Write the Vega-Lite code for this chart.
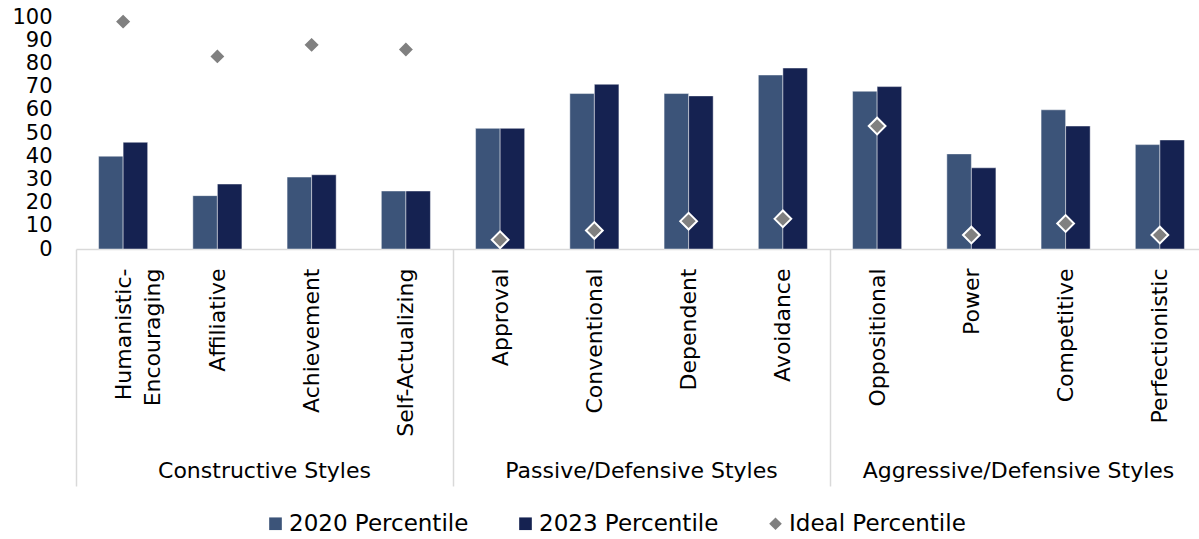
{
  "$schema": "https://vega.github.io/schema/vega-lite/v6.json",
  "width": 1123,
  "height": 232,
  "autosize": "none",
  "padding": {"left": 76, "top": 17, "right": 0, "bottom": 290},
  "background": "#ffffff",
  "config": {"view": {"stroke": null}, "font": "DejaVu Sans", "axisY": {"labelOverlap": false}},
  "data": {
    "values": [
      {"cat": "Humanistic-Encouraging", "group": "Constructive Styles", "2020 Percentile": 40, "2023 Percentile": 46, "Ideal Percentile": 98},
      {"cat": "Affiliative", "group": "Constructive Styles", "2020 Percentile": 23, "2023 Percentile": 28, "Ideal Percentile": 83},
      {"cat": "Achievement", "group": "Constructive Styles", "2020 Percentile": 31, "2023 Percentile": 32, "Ideal Percentile": 88},
      {"cat": "Self-Actualizing", "group": "Constructive Styles", "2020 Percentile": 25, "2023 Percentile": 25, "Ideal Percentile": 86},
      {"cat": "Approval", "group": "Passive/Defensive Styles", "2020 Percentile": 52, "2023 Percentile": 52, "Ideal Percentile": 4},
      {"cat": "Conventional", "group": "Passive/Defensive Styles", "2020 Percentile": 67, "2023 Percentile": 71, "Ideal Percentile": 8},
      {"cat": "Dependent", "group": "Passive/Defensive Styles", "2020 Percentile": 67, "2023 Percentile": 66, "Ideal Percentile": 12},
      {"cat": "Avoidance", "group": "Passive/Defensive Styles", "2020 Percentile": 75, "2023 Percentile": 78, "Ideal Percentile": 13},
      {"cat": "Oppositional", "group": "Aggressive/Defensive Styles", "2020 Percentile": 68, "2023 Percentile": 70, "Ideal Percentile": 53},
      {"cat": "Power", "group": "Aggressive/Defensive Styles", "2020 Percentile": 41, "2023 Percentile": 35, "Ideal Percentile": 6},
      {"cat": "Competitive", "group": "Aggressive/Defensive Styles", "2020 Percentile": 60, "2023 Percentile": 53, "Ideal Percentile": 11},
      {"cat": "Perfectionistic", "group": "Aggressive/Defensive Styles", "2020 Percentile": 45, "2023 Percentile": 47, "Ideal Percentile": 6}
    ]
  },
  "transform": [
    {"fold": ["2020 Percentile", "2023 Percentile", "Ideal Percentile"], "as": ["series", "value"]}
  ],
  "layer": [
    {
      "encoding": {
        "y": {
          "field": "value", "type": "quantitative",
          "scale": {"domain": [0, 100], "nice": false},
          "axis": {
            "title": null,
            "values": [0, 10, 20, 30, 40, 50, 60, 70, 80, 90, 100],
            "labelOverlap": false,
            "domain": false,
            "ticks": false,
            "grid": false,
            "labelFont": "DejaVu Sans",
            "labelFontSize": 21,
            "labelColor": "#000000",
            "labelPadding": 24
          }
        }
      },
      "layer": [
        {
          "transform": [{"filter": "datum.series != 'Ideal Percentile'"}],
          "mark": {"type": "bar", "stroke": "#ffffff", "strokeOpacity": 0.45, "strokeWidth": 1},
          "encoding": {
            "x": {
              "field": "cat", "type": "nominal", "sort": null,
              "scale": {"paddingInner": 0, "paddingOuter": 0, "rangeMax": 1131},
              "axis": {
                "title": null,
                "labelAngle": -90,
                "labelAlign": "right",
                "labelBaseline": "middle",
                "labelFont": "DejaVu Sans",
                "labelFontSize": 22,
                "labelColor": "#000000",
                "labelLineHeight": 29,
                "labelLimit": 400,
                "labelOverlap": false,
                "labelExpr": "datum.value == 'Humanistic-Encouraging' ? ['Humanistic-', 'Encouraging'] : datum.label",
                "labelPadding": -218,
                "tickSize": 237,
                "tickBand": "extent",
                "tickColor": "#d9d9d9",
                "tickWidth": 1.5,
                "tickOpacity": {
                  "condition": {"test": "datum.extra || indexof(['Self-Actualizing', 'Avoidance', 'Perfectionistic'], datum.value) >= 0", "value": 1},
                  "value": 0
                },
                "domainColor": "#d9d9d9",
                "domainWidth": 1.5
              }
            },
            "xOffset": {"field": "series", "type": "nominal", "scale": {"paddingInner": 0, "paddingOuter": 0.92}},
            "color": {
              "field": "series", "type": "nominal",
              "scale": {"domain": ["2020 Percentile", "2023 Percentile", "Ideal Percentile"], "range": ["#3c5479", "#152251", "#808080"]},
              "legend": {
                "title": null, "orient": "none", "direction": "horizontal",
                "legendX": 188, "legendY": 495, "padding": 0,
                "symbolSize": 160, "symbolStrokeWidth": 0,
                "labelFont": "DejaVu Sans", "labelFontSize": 23, "labelColor": "#000000",
                "labelOffset": 2, "columnPadding": 45, "labelLimit": 400
              }
            }
          }
        },
        {
          "transform": [{"filter": "datum.series == 'Ideal Percentile'"}],
          "mark": {"type": "point", "filled": true, "opacity": 1, "stroke": "#ffffff", "strokeWidth": 2, "size": 280},
          "encoding": {
            "x": {"field": "cat", "type": "nominal", "sort": null},
            "color": {"field": "series", "type": "nominal"},
            "shape": {
              "field": "series", "type": "nominal",
              "scale": {"domain": ["2020 Percentile", "2023 Percentile", "Ideal Percentile"], "range": ["square", "square", "diamond"]},
              "legend": {
                "title": null, "orient": "none", "direction": "horizontal",
                "legendX": 188, "legendY": 495, "padding": 0,
                "symbolSize": 160, "symbolStrokeWidth": 0,
                "labelFont": "DejaVu Sans", "labelFontSize": 23, "labelColor": "#000000",
                "labelOffset": 2, "columnPadding": 45, "labelLimit": 400
              }
            }
          }
        }
      ]
    },
    {
      "mark": {"type": "rule", "opacity": 0},
      "encoding": {
        "x": {
          "field": "group", "type": "nominal", "sort": null,
          "scale": {"paddingInner": 0, "paddingOuter": 0, "rangeMax": 1131},
          "axis": {
            "orient": "bottom",
            "title": null,
            "domain": false,
            "ticks": false,
            "tickSize": 0,
            "labelAngle": 0,
            "labelAlign": "center",
            "labelBaseline": "alphabetic",
            "labelFont": "DejaVu Sans",
            "labelFontSize": 22,
            "labelColor": "#000000",
            "labelPadding": 228,
            "labelLimit": 400
          }
        }
      }
    }
  ],
  "resolve": {"scale": {"x": "independent"}, "axis": {"x": "independent"}}
}
